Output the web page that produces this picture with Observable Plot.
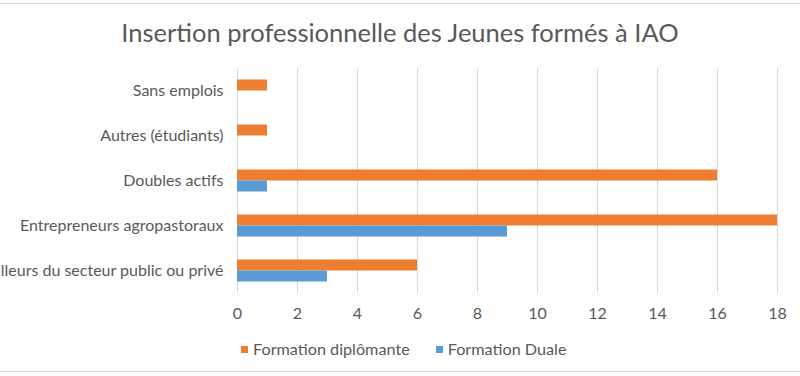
<!DOCTYPE html>
<html>
<head>
<meta charset="utf-8">
<script src="https://cdn.jsdelivr.net/npm/d3@7"></script>
<script src="https://cdn.jsdelivr.net/npm/@observablehq/plot@0.6"></script>
<style>
  body { margin: 0; background: #fff; }
  #wrap { position: relative; width: 800px; height: 376px; overflow: hidden; font-family: Lato, "Open Sans", sans-serif; color: #595959; background: #fff; }
  .hline { position: absolute; left: 0; width: 800px; height: 1px; background: #d9d9d9; }
  #title { position: absolute; left: 0; width: 800px; top: 15px; text-align: center; font-size: 25.5px; line-height: 34px; color: #595959; }
  #chart { position: absolute; left: 0; top: 60px; }
  #legend { position: absolute; left: 241px; top: 339px; display: flex; align-items: center; font-size: 16.2px; line-height: 20px; color: #595959; }
  .sw { display: inline-block; width: 7px; height: 7px; margin-right: 5px; }
  .item { display: flex; align-items: center; margin-right: 26px; }
</style>
</head>
<body>
<div id="wrap">
  <div class="hline" style="top:3px"></div>
  <div id="title">Insertion professionnelle des Jeunes formés à IAO</div>
  <div id="chart"></div>
  <div id="legend"></div>
  <div class="hline" style="top:371px"></div>
</div>
<script>
const categories = ["Sans emplois", "Autres (étudiants)", "Doubles actifs", "Entrepreneurs agropastoraux", "Travailleurs du secteur public ou privé"];
const series = ["Formation diplômante", "Formation Duale"];
const diplomante = [1, 1, 16, 18, 6];
const duale = [0, 0, 1, 9, 3];
const xTicks = [0, 2, 4, 6, 8, 10, 12, 14, 16, 18];
const colors = ["#ED7D31", "#5B9BD5"];

const data = categories.flatMap((c, i) => [
  {category: c, series: series[0], value: diplomante[i]},
  {category: c, series: series[1], value: duale[i]}
]);

const chart = Plot.plot({
  width: 800,
  height: 270,
  marginTop: 7.5,
  marginBottom: 37.5,
  marginLeft: 237,
  marginRight: 23,
  style: {fontFamily: "Lato, 'Open Sans', sans-serif", fontSize: "16px", color: "#595959", overflow: "visible", background: "transparent"},
  x: {domain: [0, 18], ticks: xTicks, label: null, tickSize: 0, tickPadding: 14},
  fy: {domain: categories, padding: 0, label: null, axis: "left", tickSize: 0, tickPadding: 14},
  y: {domain: series, paddingInner: 0, paddingOuter: 0.923, axis: null},
  color: {domain: series, range: colors},
  marks: [
    Plot.gridX(xTicks, {stroke: "#d9d9d9", strokeOpacity: 1, strokeWidth: 1}),
    Plot.barX(data, {fy: "category", y: "series", x: "value", fill: "series"})
  ]
});
document.getElementById("chart").appendChild(chart);

const legend = document.getElementById("legend");
series.forEach((s, i) => {
  const item = document.createElement("div");
  item.className = "item";
  const sw = document.createElement("span");
  sw.className = "sw";
  sw.style.background = colors[i];
  item.appendChild(sw);
  item.appendChild(document.createTextNode(s));
  legend.appendChild(item);
});
</script>
</body>
</html>
